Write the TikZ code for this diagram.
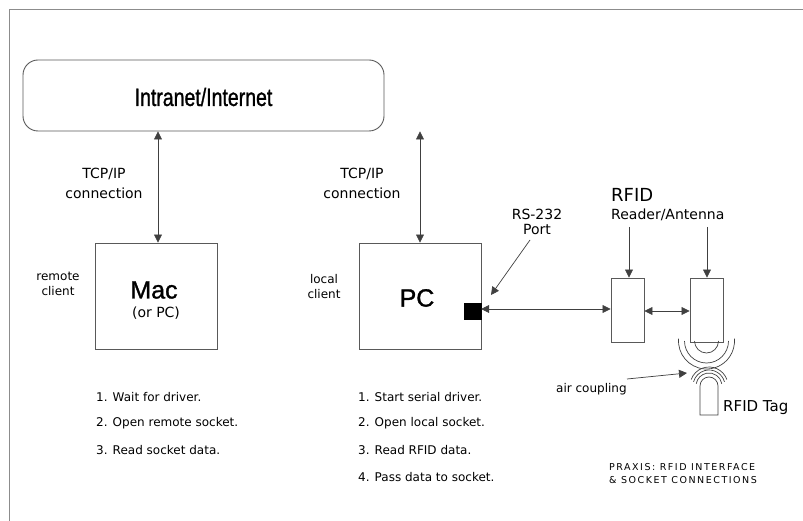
\documentclass[tikz,border=0pt]{standalone}
\usepackage{fontspec}
\setmainfont{DejaVu Sans}
\newfontfamily\headfont[FakeBold=1.2]{Liberation Sans}
\newfontfamily\praxisfont[LetterSpace=16]{DejaVu Sans}
\usetikzlibrary{arrows.meta,calc}
\begin{document}
\begin{tikzpicture}[x=1pt,y=1pt,
  box/.style={draw=black!65, line width=0.9pt, inner sep=0pt},
  conn/.style={draw=black!75, line width=0.7pt, {Triangle[length=8pt,width=8pt]}-{Triangle[length=8pt,width=8pt]}},
  onehead/.style={draw=black!75, line width=0.7pt, -{Triangle[length=8pt,width=8pt]}},
  lbl/.style={font=\fontsize{14}{20}\selectfont, align=center, inner sep=0pt},
  small/.style={font=\fontsize{12}{15}\selectfont, align=center, inner sep=0pt},
  item/.style={font=\fontsize{12}{15}\selectfont, anchor=west, inner sep=0pt},
  head/.style={font=\headfont\fontsize{25}{25}\selectfont, inner sep=0pt},
  wave/.style={draw=black!75, line width=0.7pt},
  frameline/.style={draw=black!45, line width=0.8pt}]
\useasboundingbox (0,0) rectangle (803,-521);
\draw[frameline] (9,-521) -- (9,-9) -- (803,-9);

% network cloud box
\node[box, rounded corners=15pt, minimum width=361pt, minimum height=71pt] (net) at (203.5,-95.5) {};
\node[head] (nettext) at (203.5,-97) {\scalebox{0.78}[1]{Intranet/Internet}};

% Mac
\node[box, minimum width=122pt, minimum height=106pt] (mac) at (156,-296) {};
\node[head] (mactext) at (154,-290) {Mac};
\node[font=\fontsize{14}{14}\selectfont, inner sep=0pt] (macsub) at (156,-313) {(or PC)};
\node[small] (remote) at (58,-283.5) {remote\\client};

% PC
\node[box, minimum width=122pt, minimum height=106pt] (pc) at (420,-296) {};
\node[head] (pctext) at (417,-298) {PC};
\node[small] (local) at (324,-286.5) {local\\client};
\node[fill=black, draw=black, minimum width=17pt, minimum height=16pt, inner sep=0pt] (port) at (472.5,-311) {};

% TCP/IP labels
\node[lbl] (tcp1) at (104,-183) {TCP/IP\\connection};
\node[lbl] (tcp2) at (362,-183) {TCP/IP\\connection};

% connectors to network
\draw[conn] ([xshift=2pt]mac.north) -- ([xshift=2pt]mac.north |- net.south);
\draw[conn] (pc.north) -- (pc.north |- net.south);

% RS-232
\node[font=\fontsize{14}{15}\selectfont, align=center, inner sep=0pt] (rs) at (537,-221.5) {RS-232\\Port};
\coordinate (rsstart) at (530,-240);
\coordinate (rstip) at (491,-295);
\draw[onehead] (rsstart) -- (rstip);

% RFID reader / antenna
\node[box, minimum width=33pt, minimum height=64pt] (reader) at (627.5,-310) {};
\node[box, minimum width=33pt, minimum height=64pt] (ant) at (706.5,-310) {};
\node[anchor=west, font=\fontsize{18}{18}\selectfont, inner sep=0pt] (rfid) at (611,-195) {RFID};
\node[anchor=west, font=\fontsize{14}{14}\selectfont, inner sep=0pt] (readerlbl) at (611,-215) {Reader/Antenna};
\coordinate (rd) at (629,-227);
\coordinate (ad) at (707,-227);
\draw[onehead] (rd) -- (rd |- reader.north);
\draw[onehead] (ad) -- (ad |- ant.north);

\draw[conn] ([yshift=2pt]port.east) -- ([yshift=2pt]port.east -| reader.west);
\draw[conn] ([yshift=-1pt]reader.east) -- ([yshift=-1pt]ant.west);

% antenna waves
\draw[wave] (694.5,-341) arc[start angle=180, end angle=360, radius=12];
\draw[wave] (684.5,-341) arc[start angle=180, end angle=360, radius=22];
\draw[wave] ($(706.5,-341)+(175:28)$) arc[start angle=175, end angle=365, radius=28];

% tag
\draw[wave] (700,-415) -- (700,-386) arc[start angle=180, end angle=0, radius=9] -- (718,-415) -- cycle;
\draw[wave] ($(709,-386)+(10:13)$) arc[start angle=10, end angle=170, radius=13];
\draw[wave] ($(709,-386)+(15:16)$) arc[start angle=15, end angle=165, radius=16];
\draw[wave] ($(709,-386)+(20:19)$) arc[start angle=20, end angle=160, radius=19];
\node[anchor=west, font=\fontsize{15}{15}\selectfont, inner sep=0pt] (tag) at (723,-408) {RFID Tag};

% air coupling
\node[anchor=west, font=\fontsize{12}{12}\selectfont, inner sep=0pt] (air) at (556,-389) {air coupling};
\coordinate (airstart) at (627,-379);
\coordinate (airtip) at (687,-373);
\draw[onehead] (airstart) -- (airtip);

% lists
\node[item] (m1) at (96,-397) {1. Wait for driver.};
\node[item] (m2) at (96,-423.5) {2. Open remote socket.};
\node[item] (m3) at (96,-450) {3. Read socket data.};
\node[item] (p1) at (358,-397) {1. Start serial driver.};
\node[item] (p2) at (358,-423.5) {2. Open local socket.};
\node[item] (p3) at (358,-450) {3. Read RFID data.};
\node[item] (p4) at (358,-477) {4. Pass data to socket.};

% caption
\node[anchor=west, font=\praxisfont\fontsize{9.5}{13}\selectfont, align=left, inner sep=0pt] (praxis) at (609,-473.5) {PRAXIS: RFID INTERFACE\\\& SOCKET CONNECTIONS};
\end{tikzpicture}
\end{document}
